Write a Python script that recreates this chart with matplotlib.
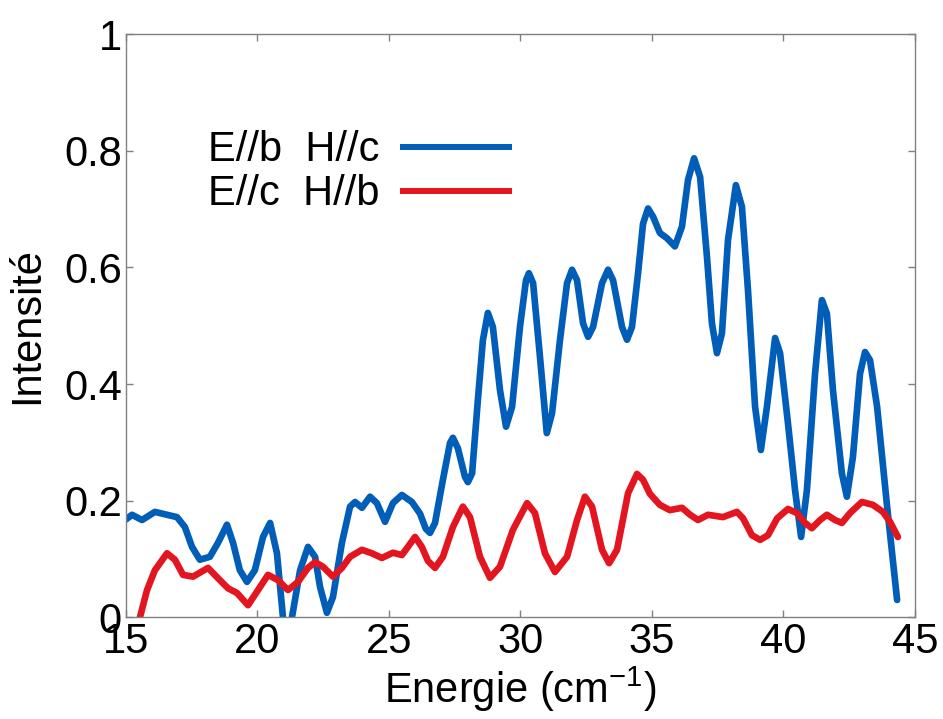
import matplotlib
matplotlib.use("Agg")
import matplotlib.pyplot as plt

# spectre E//b H//c (bleu)
x_b = [15.0, 15.23, 15.61, 16.1, 16.56, 16.94, 17.24, 17.51, 17.81, 18.19, 18.5, 18.84,
       19.07, 19.33, 19.6, 19.9, 20.21, 20.48, 20.74, 20.97, 21.13, 21.31, 21.62, 21.92,
       22.19, 22.38, 22.64, 22.87, 23.21, 23.52, 23.71, 23.97, 24.28, 24.54, 24.85,
       25.15, 25.49, 25.87, 26.18, 26.4, 26.56, 26.75, 27.05, 27.32, 27.43, 27.62,
       27.89, 28.0, 28.16, 28.38, 28.57, 28.76, 28.95, 29.22, 29.45, 29.68, 29.98,
       30.21, 30.32, 30.48, 30.74, 31.0, 31.2, 31.5, 31.77, 31.96, 32.15, 32.38, 32.57,
       32.76, 33.1, 33.33, 33.52, 33.86, 34.05, 34.24, 34.47, 34.66, 34.85, 35.04,
       35.3, 35.57, 35.87, 36.14, 36.37, 36.6, 36.83, 37.09, 37.28, 37.47, 37.66,
       37.89, 38.19, 38.42, 38.65, 38.92, 39.14, 39.37, 39.68, 39.87, 40.17, 40.44,
       40.67, 40.89, 41.2, 41.46, 41.65, 41.88, 42.22, 42.41, 42.64, 42.91, 43.1,
       43.29, 43.56, 43.94, 44.32]
y_b = [0.168, 0.176, 0.167, 0.181, 0.176, 0.172, 0.155, 0.121, 0.099, 0.104, 0.128, 0.159,
       0.128, 0.081, 0.061, 0.081, 0.138, 0.162, 0.11, 0.0, -0.06, 0.0, 0.081, 0.121,
       0.104, 0.052, 0.008, 0.035, 0.128, 0.19, 0.198, 0.188, 0.207, 0.196, 0.164,
       0.196, 0.21, 0.198, 0.178, 0.152, 0.145, 0.162, 0.236, 0.299, 0.308, 0.29,
       0.241, 0.232, 0.247, 0.373, 0.475, 0.522, 0.498, 0.39, 0.327, 0.361, 0.498,
       0.578, 0.59, 0.573, 0.447, 0.316, 0.35, 0.475, 0.573, 0.596, 0.578, 0.504, 0.481,
       0.498, 0.573, 0.596, 0.578, 0.498, 0.476, 0.498, 0.59, 0.675, 0.701, 0.687,
       0.659, 0.65, 0.636, 0.67, 0.75, 0.787, 0.755, 0.618, 0.504, 0.453, 0.487,
       0.647, 0.741, 0.704, 0.561, 0.361, 0.287, 0.361, 0.479, 0.453, 0.333, 0.218,
       0.138, 0.218, 0.418, 0.544, 0.521, 0.39, 0.247, 0.207, 0.275, 0.418, 0.455,
       0.441, 0.361, 0.19, 0.03]

# spectre E//c H//b (rouge)
x_r = [15.53, 15.8, 16.1, 16.56, 16.86, 17.17, 17.55, 18.12, 18.57, 18.88, 19.22, 19.64,
       20.02, 20.4, 20.78, 21.16, 21.54, 21.92, 22.19, 22.49, 22.87, 23.21, 23.52, 23.97,
       24.35, 24.73, 25.15, 25.49, 25.72, 25.99, 26.25, 26.48, 26.75, 27.05, 27.43,
       27.81, 28.08, 28.46, 28.84, 29.22, 29.71, 30.25, 30.55, 30.93, 31.31, 31.77,
       32.15, 32.45, 32.72, 33.1, 33.37, 33.67, 34.09, 34.43, 34.66, 34.92, 35.3, 35.68,
       36.14, 36.45, 36.75, 37.13, 37.7, 38.23, 38.46, 38.8, 39.11, 39.41, 39.76, 40.17,
       40.51, 40.82, 41.08, 41.39, 41.65, 41.96, 42.22, 42.53, 42.98, 43.4, 43.78, 44.05,
       44.35]
y_r = [0.0, 0.047, 0.081, 0.11, 0.099, 0.073, 0.07, 0.085, 0.064, 0.05, 0.042, 0.021,
       0.047, 0.073, 0.064, 0.047, 0.061, 0.085, 0.095, 0.087, 0.07, 0.085, 0.104, 0.116,
       0.11, 0.102, 0.111, 0.107, 0.121, 0.138, 0.121, 0.097, 0.085, 0.104, 0.155,
       0.19, 0.172, 0.104, 0.068, 0.087, 0.15, 0.196, 0.179, 0.11, 0.078, 0.104,
       0.167, 0.207, 0.19, 0.116, 0.093, 0.116, 0.213, 0.246, 0.236, 0.212, 0.193, 0.184,
       0.188, 0.176, 0.167, 0.176, 0.172, 0.181, 0.17, 0.141, 0.133, 0.141, 0.17, 0.186,
       0.179, 0.162, 0.153, 0.167, 0.176, 0.167, 0.162, 0.179, 0.198, 0.193, 0.181, 0.164,
       0.138]

labels = ["E//b  H//c", "E//c  H//b"]
yticks = [0, 0.2, 0.4, 0.6, 0.8, 1]
ytick_labels = ["0", "0.2", "0.4", "0.6", "0.8", "1"]
xticks = [15, 20, 25, 30, 35, 40, 45]

plt.rcParams['font.family'] = ['Liberation Sans', 'DejaVu Sans']
plt.rcParams['mathtext.fontset'] = 'custom'
plt.rcParams['mathtext.rm'] = 'Liberation Sans'
plt.rcParams['mathtext.it'] = 'Liberation Sans'

fig = plt.figure(figsize=(9.43, 7.19), dpi=100)
ax = fig.add_axes([0.1336, 0.1412, 0.8367, 0.8115])

ax.plot(x_b, y_b, color='#005eb8', lw=4.8, solid_joinstyle='round',
        solid_capstyle='round', label=labels[0])
ax.plot(x_r, y_r, color='#e3161f', lw=4.8, solid_joinstyle='round',
        solid_capstyle='round', label=labels[1])

ax.set_xlim(15, 45)
ax.set_ylim(0, 1)
ax.set_xticks(xticks)
ax.set_yticks(yticks)
ax.set_yticklabels(ytick_labels)
ax.tick_params(direction='in', length=5, width=1, color='#808080',
               top=True, right=True, labelsize=30, pad=3)
for s in ax.spines.values():
    s.set_color('#808080')
    s.set_linewidth(1)

ax.set_xlabel('Energie (cm$^{-1}$)', fontsize=30, labelpad=2)
ax.set_ylabel('Intensité', fontsize=30, labelpad=12)

leg = ax.legend(loc='upper right', bbox_to_anchor=(0.489, 0.835), frameon=False,
                markerfirst=False, fontsize=30, handlelength=2.69, handletextpad=0.48,
                labelspacing=0.1, borderpad=0, borderaxespad=0)
for h in leg.get_lines():
    h.set_linewidth(4.3)
    h.set_solid_capstyle('butt')

fig.savefig('out.png', dpi=100)
